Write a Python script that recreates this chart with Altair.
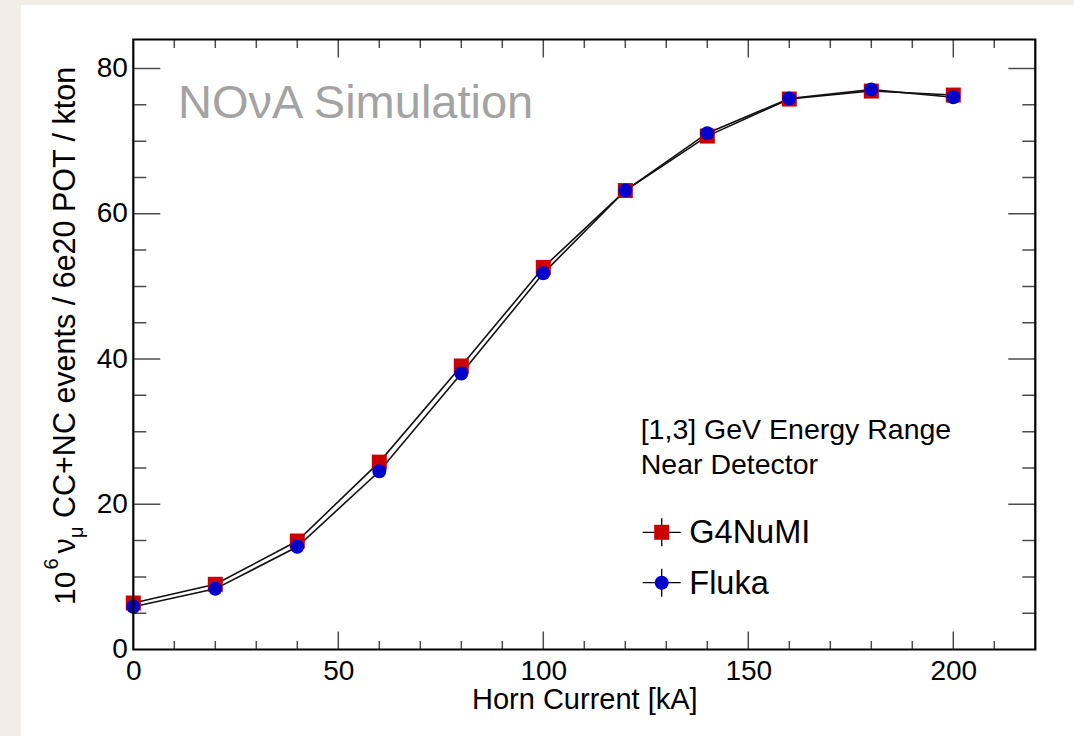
import altair as alt
import pandas as pd

# ---- data ----
current = [0, 20, 40, 60, 80, 100, 120, 140, 160, 180, 200]
g4numi = [6.4, 8.98, 14.94, 25.8, 39.04, 52.6, 63.2, 70.7, 75.8, 76.9, 76.35]
fluka = [5.88, 8.35, 14.14, 24.55, 38.0, 51.8, 63.2, 71.1, 75.87, 77.1, 76.05]
series_names = ["G4NuMI", "Fluka"]
x_major = [0, 50, 100, 150, 200]
y_major = [0, 20, 40, 60, 80]
x_tick_all = list(range(10, 220, 10))
y_tick_all = list(range(5, 84, 5))
sim_label = "NOνA Simulation"
info_lines = ["[1,3] GeV Energy Range", "Near Detector"]
x_title = "Horn Current [kA]"
y_title_rest = "CC+NC events / 6e20 POT / kton"

W, H = 902, 610
FONT = "Liberation Sans"
RED, BLUE = "#cc0000", "#0000cc"

df = pd.DataFrame({
    "current": current + current,
    "events": g4numi + fluka,
    "series": [series_names[0]] * len(current) + [series_names[1]] * len(current),
})

xs = alt.Scale(domain=[0, 220], nice=False, zero=False)
ys = alt.Scale(domain=[0, 84], nice=False, zero=False)

one = pd.DataFrame({"a": [0]})

bg = alt.Chart(one).mark_rect(color="white", clip=False).encode(
    x=alt.value(-112.3), x2=alt.value(W + 40), y=alt.value(-34.5), y2=alt.value(H + 90)
)

lines = alt.Chart(df).mark_line(color="#111111", strokeWidth=1.6).encode(
    x=alt.X("current:Q", scale=xs,
            axis=alt.Axis(values=x_major, title=x_title, format="d",
                          labelFont=FONT, labelFontSize=28, labelColor="black",
                          labelPadding=8, labelFlush=False, ticks=False, tickSize=0,
                          domain=False, grid=False, titleFont=FONT, titleFontSize=29,
                          titleFontWeight="normal", titleColor="black", titleY=59,
                          titleBaseline="alphabetic", zindex=1)),
    y=alt.Y("events:Q", scale=ys,
            axis=alt.Axis(values=y_major, title=None, format="d",
                          labelFont=FONT, labelFontSize=28, labelColor="black",
                          labelPadding=6, labelFlush=False, ticks=False, tickSize=0,
                          domain=False, grid=False, zindex=1)),
    detail="series:N",
)

points = alt.Chart(df).mark_point(filled=True, opacity=1, strokeWidth=0).encode(
    x=alt.X("current:Q", scale=xs),
    y=alt.Y("events:Q", scale=ys),
    color=alt.Color("series:N", scale=alt.Scale(domain=series_names, range=[RED, BLUE]), legend=None),
    shape=alt.Shape("series:N", scale=alt.Scale(domain=series_names, range=["square", "circle"]), legend=None),
    size=alt.Size("series:N", scale=alt.Scale(domain=series_names, range=[225, 196]), legend=None),
    order=alt.Order("series:N", sort="descending"),
)

xt = pd.DataFrame({"v": x_tick_all, "major": [v % 50 == 0 for v in x_tick_all]})
yt = pd.DataFrame({"v": y_tick_all, "major": [v % 20 == 0 for v in y_tick_all]})

def xticks(ypos):
    return alt.Chart(xt).mark_tick(orient="vertical", thickness=1.5, color="black", clip=True).encode(
        x=alt.X("v:Q", scale=xs), y=alt.value(ypos),
        size=alt.condition("datum.major", alt.value(36), alt.value(17)),
    )

def yticks(xpos):
    return alt.Chart(yt).mark_tick(orient="horizontal", thickness=1.5, color="black", clip=True).encode(
        y=alt.Y("v:Q", scale=ys), x=alt.value(xpos),
        size=alt.condition("datum.major", alt.value(54), alt.value(26)),
    )

frame = alt.Chart(one).mark_rect(fillOpacity=0, stroke="black", strokeWidth=2.2, clip=False).encode(
    x=alt.value(0), x2=alt.value(W), y=alt.value(0), y2=alt.value(H)
)

def txt(s, x, y, size, color="black", angle=0):
    return alt.Chart(one).mark_text(text=s, font=FONT, fontSize=size, color=color,
                                    align="left", baseline="alphabetic", angle=angle).encode(
        x=alt.value(x), y=alt.value(y))

title = txt(sim_label, 44.7, 78.8, 47, color="#a3a3a3")
info = [txt(s, 507.4, 399.5 + 35 * i, 28.5) for i, s in enumerate(info_lines)]

legend_layers = []
for i, (name, col, shp, sz) in enumerate(zip(series_names, [RED, BLUE], ["square", "circle"], [225, 196])):
    cy = 492.8 + 50.4 * i
    legend_layers.append(alt.Chart(one).mark_rule(color="black", strokeWidth=1.3).encode(
        x=alt.value(509.4), x2=alt.value(547.4), y=alt.value(cy)))
    legend_layers.append(alt.Chart(one).mark_rule(color="black", strokeWidth=1.3).encode(
        x=alt.value(528.4), y=alt.value(cy - 14), y2=alt.value(cy + 14)))
    legend_layers.append(alt.Chart(one).mark_point(filled=True, opacity=1, strokeWidth=0, shape=shp,
                                                  size=sz, color=col).encode(
        x=alt.value(528.4), y=alt.value(cy)))
    legend_layers.append(txt(name, 556, cy + 11, 32.5))

# y-axis title built from pieces (superscript / subscript)
ytitle = [
    txt("10", -58.3, 565.5, 30, angle=270),
    txt("6", -75.3, 530.0, 20, angle=270),
    txt("ν", -58.3, 514.0, 30.5, angle=270),
    txt("μ", -50.0, 498.5, 20, angle=270),
    txt(y_title_rest, -58.3, 478.5, 30.5, angle=270),
]

chart = alt.layer(
    bg, lines, points,
    xticks(H), xticks(0), yticks(0), yticks(W),
    frame, title, *info, *legend_layers, *ytitle,
).properties(
    width=W, height=H,
    autosize=alt.AutoSizeParams(type="none"),
    padding={"left": 133.3, "top": 39.5, "right": 38.7, "bottom": 86.5},
    background="#f2eee7",
).configure_view(stroke=None)

chart.save("out.html", embed_options={"renderer": "svg", "actions": False})
